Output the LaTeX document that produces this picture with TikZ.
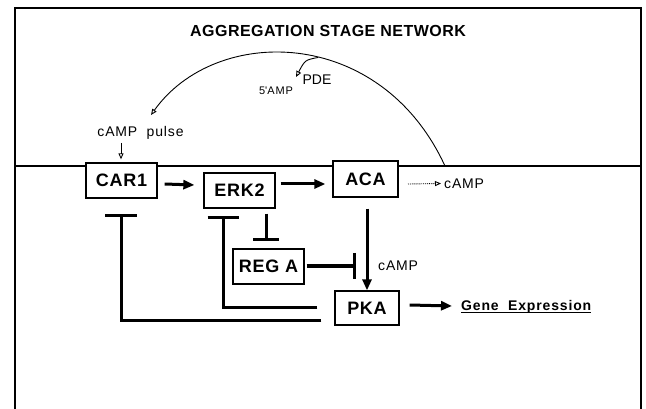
\documentclass[tikz,border=0pt]{standalone}
\usepackage{fontspec}
\setmainfont{Liberation Sans}
\usetikzlibrary{arrows.meta,calc}
\begin{document}
\begin{tikzpicture}[x=1pt,y=-1pt,
  box/.style={draw,line width=1.3pt,fill=white,inner sep=0pt,
    font=\fontsize{18}{20}\selectfont\bfseries\addfontfeature{LetterSpace=4}},
  act/.style={line width=3pt,-{Triangle[length=11pt,width=9pt]}},
  inh/.style={line width=3pt},
  thinline/.style={line width=0.9pt},
  opentip/.style={-{Triangle[open,length=6pt,width=5pt]}},
  lbl/.style={inner sep=0pt,font=\fontsize{14}{16}\selectfont\addfontfeature{LetterSpace=6}}]
\useasboundingbox (0,0) rectangle (646,409);
% frame and membrane
\draw[line width=1.5pt] (15,409) -- (15,8) -- (641,8) -- (641,409);
\draw[line width=1.2pt] (15,166) -- (641,166);
% title
\node[inner sep=0pt,font=\fontsize{16}{18}\selectfont\bfseries\addfontfeature{LetterSpace=3}] (title) at (328,31) {AGGREGATION STAGE NETWORK};
% boxes
\node[box,minimum width=71pt,minimum height=35pt] (car1) at (121.5,180.5) {CAR1};
\node[box,minimum width=71pt,minimum height=35pt] (erk2) at (239.5,190.5) {ERK2};
\node[box,minimum width=65pt,minimum height=36pt] (aca) at (365.5,179) {ACA};
\node[box,minimum width=71pt,minimum height=35pt] (rega) at (268.5,266.5) {REG A};
\node[box,minimum width=64pt,minimum height=34pt] (pka) at (367,308) {PKA};
% labels
\node[lbl] (pulse) at (140.5,132.5) {cAMP\ \ pulse};
\node[lbl,anchor=west] (camp1) at (444,183.5) {cAMP};
\node[lbl,anchor=west] (camp2) at (378,266) {cAMP};
\node[inner sep=0pt,font=\fontsize{14}{16}\selectfont] (pde) at (317,80) {PDE};
\node[inner sep=0pt,font=\fontsize{11}{13}\selectfont\addfontfeature{LetterSpace=8}] (amp5) at (276,91) {5\textquotesingle AMP};
\node[inner sep=0pt,anchor=west,font=\fontsize{14}{16}\selectfont\bfseries\addfontfeature{LetterSpace=6}] (gene) at (461,307) {Gene\ \ Expression};
\draw[line width=1.1pt] ([yshift=-2.2pt]gene.base west) -- ([yshift=-2.2pt]gene.base east);
% extracellular cAMP loop
\coordinate (arcstart) at (445,166);
\coordinate (pulsetip) at (151,115);
\draw[thinline,opentip] (arcstart) .. controls (380,25) and (215,25) .. (pulsetip);
\path (arcstart) .. controls (380,25) and (215,25) .. (pulsetip) coordinate[pos=0.44] (pdefrom);
\coordinate (pdetip) at (296,77);
\draw[thinline,opentip] (pdefrom) .. controls (305,60) .. (pdetip);
% cAMP pulse arrow
\coordinate (pulsefrom) at (121,143);
\draw[thinline,opentip,shorten >=3pt] (pulsefrom) -- (pulsefrom |- car1.north);
% ACA -> cAMP
\coordinate (campfrom) at (408,184);
\draw[thinline,densely dotted,opentip] (campfrom) -- ([xshift=-3pt]camp1.west);
% activations
\draw[act] ($(car1.east)+(7,3.5)$) -- ($(erk2.west)+(-9,-5.5)$);
\draw[act] ($(erk2.east)+(5,-6.5)$) -- ($(aca.west)+(-7,5)$);
\draw[act] ($(aca.south)+(1.5,11)$) -- (pka.north);
\draw[act] ($(pka.east)+(10,-3)$) -- ($(gene.west)+(-9,-1)$);
% inhibitions
\draw[inh,-{Bar[width=26pt,line width=3pt]}] ($(rega.east)+(2,-0.5)$) -- ($(rega.east)+(51,-0.5)$);
\draw[inh,-{Bar[width=26pt,line width=3pt]}] ($(erk2.south)+(26.5,5)$) -- ($(rega.north)+(-2.5,-7)$);
\draw[inh,-{Bar[width=31pt,line width=3.5pt]}] ($(pka.west)+(-17,-1)$) -| ($(erk2.south)+(-16.5,7)$);
\draw[inh,-{Bar[width=32pt,line width=3.5pt]}] ($(pka.west)+(-13,12)$) -| ($(car1.south)+(-0.5,15)$);
\end{tikzpicture}
\end{document}
